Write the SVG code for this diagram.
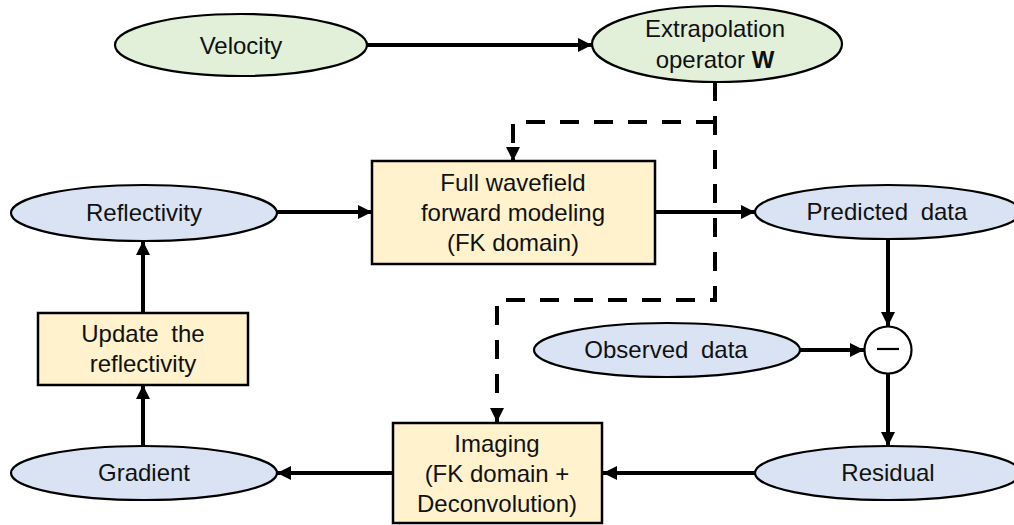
<svg xmlns="http://www.w3.org/2000/svg" width="1014" height="525" viewBox="0 0 1014 525">
  <style>
    .lbl { font-family: "Liberation Sans", Arial, sans-serif; font-size: 24px; fill: #111; text-anchor: middle; }
    .wide { word-spacing: 6px; }
    .green { fill: #E2F0D9; stroke: #000; stroke-width: 2.2; }
    .blue { fill: #DAE3F3; stroke: #000; stroke-width: 2.2; }
    .box { fill: #FFF2CC; stroke: #000; stroke-width: 2.5; }
    .flow { fill: none; stroke: #000; stroke-width: 4; marker-end: url(#head); }
    .dash { fill: none; stroke: #000; stroke-width: 4; stroke-dasharray: 19 15; marker-end: url(#head); }
  </style>
  <defs>
    <marker id="head" viewBox="0 0 14 14" refX="14" refY="7" markerWidth="14" markerHeight="14" markerUnits="userSpaceOnUse" orient="auto">
      <path d="M0,0 L14,7 L0,14 Z" fill="#000"/>
    </marker>
  </defs>

  <!-- connectors -->
  <g id="connectors">
    <path class="flow" d="M367,45 H592"/>
    <path class="flow" d="M277,212 H372"/>
    <path class="flow" d="M655,212 H755"/>
    <path class="flow" d="M888,239 V326"/>
    <path class="flow" d="M800,350 H864"/>
    <path class="flow" d="M888,374 V446"/>
    <path class="flow" d="M755,473 H603"/>
    <path class="flow" d="M393,473 H277"/>
    <path class="flow" d="M143,446 V385"/>
    <path class="flow" d="M143,313 V241"/>
    <path class="dash" d="M715,82 V300 H497 V422"/>
    <path class="dash" d="M715,122 H513 V161"/>
  </g>

  <!-- nodes -->
  <g id="velocity">
    <ellipse class="green" cx="241" cy="45" rx="126" ry="31"/>
    <text class="lbl" x="241" y="54">Velocity</text>
  </g>
  <g id="extrapolation">
    <ellipse class="green" cx="717" cy="44" rx="125" ry="38"/>
    <text class="lbl" x="715" y="37">Extrapolation</text>
    <text class="lbl" x="715" y="68">operator <tspan font-weight="bold">W</tspan></text>
  </g>
  <g id="reflectivity">
    <ellipse class="blue" cx="144" cy="213" rx="133" ry="28"/>
    <text class="lbl" x="144" y="221">Reflectivity</text>
  </g>
  <g id="forward-modeling">
    <rect class="box" x="372" y="161" width="283" height="103"/>
    <text class="lbl" x="513" y="191">Full wavefield</text>
    <text class="lbl" x="513" y="221">forward modeling</text>
    <text class="lbl" x="513" y="251">(FK domain)</text>
  </g>
  <g id="predicted">
    <ellipse class="blue" cx="888" cy="212" rx="133" ry="27"/>
    <text class="lbl wide" x="887" y="220">Predicted data</text>
  </g>
  <g id="observed">
    <ellipse class="blue" cx="667" cy="350" rx="133" ry="27"/>
    <text class="lbl wide" x="666" y="358">Observed data</text>
  </g>
  <g id="subtract">
    <circle cx="888" cy="350" r="23.5" fill="#fff" stroke="#000" stroke-width="2.2"/>
    <line x1="877" y1="349" x2="899" y2="349" stroke="#000" stroke-width="2.2"/>
  </g>
  <g id="update">
    <rect class="box" x="38" y="313" width="210" height="72"/>
    <text class="lbl wide" x="143" y="342">Update the</text>
    <text class="lbl" x="143" y="372">reflectivity</text>
  </g>
  <g id="gradient">
    <ellipse class="blue" cx="144" cy="473" rx="133" ry="27"/>
    <text class="lbl" x="144" y="481">Gradient</text>
  </g>
  <g id="imaging">
    <rect class="box" x="393" y="423" width="209" height="100"/>
    <text class="lbl" x="497" y="452">Imaging</text>
    <text class="lbl" x="497" y="482">(FK domain +</text>
    <text class="lbl" x="497" y="512">Deconvolution)</text>
  </g>
  <g id="residual">
    <ellipse class="blue" cx="888" cy="473" rx="133" ry="27"/>
    <text class="lbl" x="888" y="481">Residual</text>
  </g>
</svg>
